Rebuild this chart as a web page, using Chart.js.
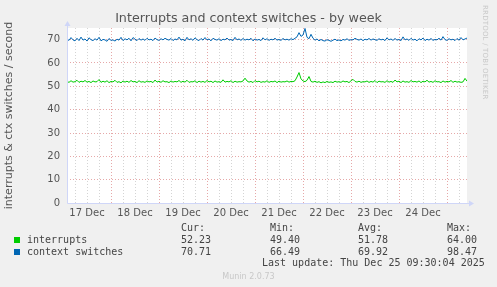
<!DOCTYPE html>
<html>
<head>
<meta charset="utf-8">
<script src="https://cdn.jsdelivr.net/npm/chart.js@4.4.1/dist/chart.umd.min.js"></script>
<style>
  html, body { margin: 0; padding: 0; background: #f0f0f0; }
  #wrap { position: relative; width: 497px; height: 287px; overflow: hidden; }
  #chart { position: absolute; left: 0; top: 0; }
  #title { position: absolute; left: 0; width: 497px; top: 10px; line-height: 16px; text-align: center; font-family: "DejaVu Sans", sans-serif; font-size: 12.7px; color: #555; }
  .mono { position: absolute; font-family: "DejaVu Sans Mono", monospace; font-size: 10px; line-height: 12px; color: #444; white-space: pre; }
  .sw { position: absolute; width: 6px; height: 6px; }
  #rrd { position: absolute; left: 481px; top: 5px; writing-mode: vertical-rl; font-family: "DejaVu Sans", sans-serif; font-size: 7px; color: #c8c8c8; letter-spacing: 0.2px; }
  #munin { position: absolute; left: 0; width: 497px; top: 272px; text-align: center; font-family: "DejaVu Sans", sans-serif; font-size: 8px; color: #c8c8c8; }
</style>
</head>
<body>
<div id="wrap">
  <canvas id="chart" width="497" height="287"></canvas>
  <div id="title">Interrupts and context switches - by week</div>
  <div id="rrd">RRDTOOL / TOBI OETIKER</div>

  <div class="mono" style="left:181px;top:222px">Cur:</div>
  <div class="mono" style="left:270px;top:222px">Min:</div>
  <div class="mono" style="left:358px;top:222px">Avg:</div>
  <div class="mono" style="left:447px;top:222px">Max:</div>

  <div class="sw" style="left:14px;top:237px;background:#00cc00"></div>
  <div class="mono" style="left:27px;top:234px">interrupts</div>
  <div class="mono" style="left:181px;top:234px">52.23</div>
  <div class="mono" style="left:270px;top:234px">49.40</div>
  <div class="mono" style="left:358px;top:234px">51.78</div>
  <div class="mono" style="left:447px;top:234px">64.00</div>

  <div class="sw" style="left:14px;top:249px;background:#0066b3"></div>
  <div class="mono" style="left:27px;top:246px">context switches</div>
  <div class="mono" style="left:181px;top:246px">70.71</div>
  <div class="mono" style="left:270px;top:246px">66.49</div>
  <div class="mono" style="left:358px;top:246px">69.92</div>
  <div class="mono" style="left:447px;top:246px">98.47</div>

  <div class="mono" style="left:262px;top:257px">Last update: Thu Dec 25 09:30:04 2025</div>
  <div id="munin">Munin 2.0.73</div>
</div>
<script>
// one sample per hour, starting 17 Dec 02:00
const stepHours = 1;
const firstMidnight = 22; // hours from start to 18 Dec 00:00
const dayLabels = ['17 Dec', '18 Dec', '19 Dec', '20 Dec', '21 Dec', '22 Dec', '23 Dec', '24 Dec'];
const yTicks = [0, 5, 10, 15, 20, 25, 30, 35, 40, 45, 50, 55, 60, 65, 70, 75];

const interrupts = [
    52.1, 51.7, 52.4, 51.8, 52.0, 52.6, 51.7, 52.2, 51.9, 52.5,
    51.8, 52.1, 51.6, 52.3, 51.9, 52.0, 52.9, 51.7, 52.2, 51.8,
    52.4, 51.6, 52.1, 51.9, 52.6, 51.7, 52.0, 51.5, 52.3, 51.8,
    52.2, 51.7, 52.5, 51.9, 52.1, 51.6, 52.4, 51.8, 52.0, 51.7,
    52.3, 51.9, 52.1, 51.6, 52.7, 51.8, 52.2, 51.7, 52.4, 51.9,
    52.0, 51.6, 52.3, 51.8, 52.1, 51.9, 52.5, 51.7, 52.2, 51.8,
    52.6, 51.7, 52.0, 51.9, 52.4, 51.6, 52.2, 51.8, 52.1, 51.7,
    52.5, 51.9, 52.2, 51.6, 52.3, 51.8, 52.0, 51.7, 52.8, 51.8,
    52.1, 51.9, 52.4, 51.6, 52.2, 51.8, 52.0, 51.9, 52.3, 53.5,
    52.3, 51.8, 52.1, 51.6, 52.5, 51.9, 52.2, 51.7, 52.0, 51.8,
    52.4, 51.7, 52.1, 51.9, 52.3, 51.6, 52.2, 51.8, 52.0, 51.9,
    52.3, 51.8, 52.1, 52.0, 52.4, 54.0, 55.9, 53.2, 52.3, 52.0,
    52.6, 54.2, 52.1, 51.8, 52.2, 51.7, 52.0, 51.5, 51.9, 51.6,
    52.1, 51.7, 51.9, 51.6, 52.2, 51.8, 52.0, 51.7, 52.3, 51.9,
    52.1, 51.6, 52.4, 53.0, 52.1, 51.8, 52.2, 51.7, 52.0, 51.9,
    52.3, 51.7, 52.1, 51.8, 52.5, 51.6, 52.2, 51.9, 52.0, 51.7,
    52.4, 51.8, 52.1, 51.7, 52.7, 51.9, 52.2, 51.6, 52.3, 51.8,
    52.0, 51.7, 52.5, 51.9, 52.1, 51.8, 52.3, 51.6, 52.2, 51.9,
    52.6, 51.8, 52.1, 51.7, 52.4, 51.9, 52.0, 51.6, 52.3, 51.8,
    52.1, 51.9, 52.5, 51.7, 52.2, 51.8, 52.0, 51.7, 51.9, 53.4,
    52.2
];
const ctxSwitches = [
    70.2, 69.7, 70.9, 69.9, 69.5, 70.6, 69.6, 71.1, 69.8, 70.3,
    69.4, 70.8, 70.0, 69.6, 70.4, 69.8, 71.0, 69.5, 70.1, 69.9,
    69.3, 70.5, 69.7, 69.9, 69.4, 70.2, 69.8, 71.0, 69.6, 70.4,
    69.9, 70.6, 69.5, 70.9, 70.2, 69.6, 70.5, 69.8, 70.3, 69.7,
    70.6, 69.9, 70.2, 69.6, 70.7, 70.0, 69.7, 70.4, 69.9, 70.6,
    70.1, 69.8, 70.5, 69.6, 70.3, 69.9, 71.1, 69.8, 70.2, 69.5,
    71.0, 69.9, 70.4, 69.7, 70.8, 70.0, 69.6, 70.5, 69.8, 70.9,
    69.9, 70.3, 69.5, 70.6, 70.1, 69.8, 70.4, 69.6, 70.2, 69.9,
    70.7, 69.8, 70.1, 69.6, 71.0, 69.9, 70.3, 69.7, 70.5, 69.8,
    70.2, 69.9, 70.6, 69.5, 70.3, 69.8, 70.1, 69.6, 70.8, 69.9,
    70.4, 69.7, 70.2, 69.9, 70.6, 69.8, 70.1, 69.7, 70.5, 69.9,
    70.2, 69.8, 70.4, 70.0, 70.6, 71.2, 73.0, 71.4, 72.0, 74.8,
    71.0, 70.4, 72.3, 70.6, 69.8, 70.3, 69.5, 70.1, 69.6, 69.4,
    70.0, 69.7, 69.3, 69.8, 70.2, 69.6, 69.9, 69.5, 70.1, 69.8,
    70.4, 69.7, 70.0, 69.9, 70.6, 70.1, 69.8, 70.3, 69.6, 70.2,
    69.9, 70.5, 69.8, 70.3, 70.0, 69.7, 70.4, 69.9, 70.2, 69.6,
    70.8, 69.9, 70.3, 69.7, 70.5, 69.8, 70.1, 69.6, 71.2, 69.9,
    70.3, 69.7, 70.6, 69.8, 70.2, 69.5, 70.4, 69.9, 70.7, 69.6,
    70.2, 69.8, 70.5, 69.7, 70.1, 69.9, 70.6, 69.8, 71.3, 70.0,
    69.7, 70.4, 69.9, 70.2, 69.6, 70.5, 69.8, 70.9, 69.9, 70.3,
    70.7
];

const toPoints = arr => arr.map((v, i) => ({ x: i * stepHours, y: v }));
const spanHours = (interrupts.length - 1) * stepHours;

const gridDots = '#d4d4d4';
const gridMajor = '#e6a8a8';
const axisColor = '#cfd6f8';

// 6-hourly grid positions
const xTicks = [];
for (let h = firstMidnight % 6; h <= spanHours; h += 6) xTicks.push(h);

const isMidnight = h => (h - firstMidnight) % 24 === 0;
const isNoon = h => Math.abs((h - firstMidnight) % 24) === 12;

const munDecor = {
    id: 'munDecor',
    beforeDraw(chart) {
        const { ctx, chartArea: a } = chart;
        ctx.save();
        ctx.fillStyle = '#ffffff';
        ctx.fillRect(a.left, a.top, a.right - a.left, a.bottom - a.top);
        ctx.restore();
    },
    afterDraw(chart) {
        const { ctx, chartArea: a } = chart;
        const x0 = Math.round(a.left) + 0.5, y0 = Math.round(a.bottom) + 0.5;
        ctx.save();
        ctx.strokeStyle = axisColor;
        ctx.fillStyle = axisColor;
        ctx.lineWidth = 1;
        ctx.beginPath();
        ctx.moveTo(x0, y0); ctx.lineTo(x0, a.top - 3);
        ctx.moveTo(x0, y0); ctx.lineTo(a.right + 3, y0);
        ctx.stroke();
        ctx.beginPath();
        ctx.moveTo(x0 - 3, a.top - 2); ctx.lineTo(x0 + 3, a.top - 2); ctx.lineTo(x0, a.top - 7); ctx.closePath();
        ctx.fill();
        ctx.beginPath();
        ctx.moveTo(a.right + 2, y0 - 3); ctx.lineTo(a.right + 2, y0 + 3); ctx.lineTo(a.right + 7, y0); ctx.closePath();
        ctx.fill();
        ctx.restore();
    }
};

new Chart(document.getElementById('chart'), {
    type: 'line',
    data: {
        datasets: [
            { label: 'context switches', data: toPoints(ctxSwitches), borderColor: '#0066b3', borderWidth: 1, pointRadius: 0, tension: 0 },
            { label: 'interrupts', data: toPoints(interrupts), borderColor: '#00cc00', borderWidth: 1, pointRadius: 0, tension: 0 }
        ]
    },
    options: {
        responsive: false,
        animation: false,
        devicePixelRatio: 1,
        layout: { padding: { left: 0, right: 30, top: 28, bottom: 64 } },
        plugins: {
            legend: { display: false },
            tooltip: { enabled: false }
        },
        scales: {
            x: {
                type: 'linear',
                min: 0,
                max: spanHours,
                afterBuildTicks: s => { s.ticks = xTicks.map(v => ({ value: v })); },
                afterFit: s => { s.height = 20; },
                ticks: {
                    autoSkip: false,
                    maxRotation: 0,
                    padding: 4,
                    color: '#555',
                    font: { family: 'DejaVu Sans', size: 10 },
                    callback: v => isNoon(v) ? dayLabels[Math.floor((v + 2) / 24)] : ''
                },
                grid: {
                    drawTicks: false,
                    color: c => isMidnight(c.tick.value) ? gridMajor : gridDots
                },
                border: { display: false, dash: [1, 2] }
            },
            y: {
                min: 0,
                max: 75,
                afterBuildTicks: s => { s.ticks = yTicks.map(v => ({ value: v })); },
                afterFit: s => { s.width = 67; },
                title: {
                    display: true,
                    text: 'interrupts & ctx switches / second',
                    color: '#555',
                    font: { family: 'DejaVu Sans', size: 11 },
                    padding: { top: 3, bottom: 0 }
                },
                ticks: {
                    padding: 7,
                    color: '#555',
                    font: { family: 'DejaVu Sans', size: 10 },
                    callback: v => v % 10 === 0 ? String(v) : ''
                },
                grid: {
                    drawTicks: false,
                    color: c => c.tick.value === 0 ? 'rgba(0,0,0,0)' : (c.tick.value % 10 === 0 ? gridMajor : gridDots)
                },
                border: { display: false, dash: [1, 2] }
            }
        }
    },
    plugins: [munDecor]
});
</script>
</body>
</html>
